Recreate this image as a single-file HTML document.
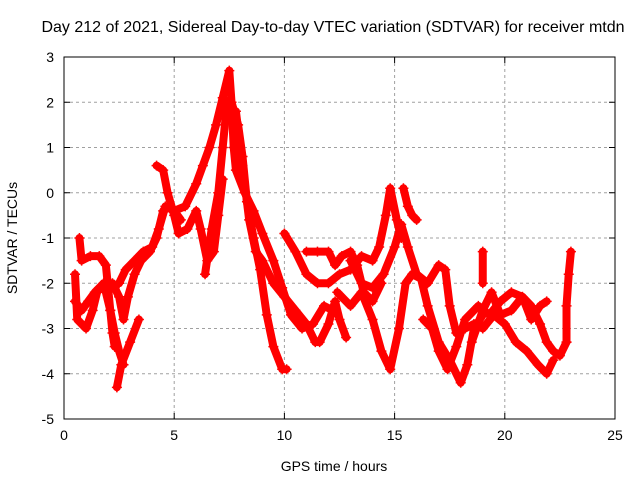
<!DOCTYPE html>
<html><head><meta charset="utf-8"><style>
body{margin:0;background:#fff}
svg{display:block;font-family:"Liberation Sans",sans-serif}
</style></head><body>
<svg id="chart" width="640" height="480">
<rect x="0" y="0" width="640" height="480" fill="#fff"/>
<text x="333" y="32" font-size="16" text-anchor="middle">Day 212 of 2021, Sidereal Day-to-day VTEC variation (SDTVAR) for receiver mtdn</text>
<g id="grid"></g>
<g id="series"></g>
<g id="axes"></g>
<text x="334" y="471" font-size="14" text-anchor="middle">GPS time / hours</text>
<text x="17" y="238" font-size="14" text-anchor="middle" transform="rotate(-90 17 238)">SDTVAR / TECUs</text>
</svg>
<script>
const xTicks=[0,5,10,15,20,25];
const yTicks=[3,2,1,0,-1,-2,-3,-4,-5];
const track1=[[5.0,-0.4],[5.5,-0.3],[6.0,0.2],[6.3,0.6],[6.6,1.0],[6.9,1.5],[7.2,2.1],[7.5,2.7],[7.6,2.0],[7.7,1.0],[7.8,0.5],[8.2,0.0],[8.6,-0.4],[9.0,-0.9],[9.5,-1.5],[9.9,-2.1],[10.3,-2.7],[10.8,-3.0],[11.3,-2.9],[11.8,-2.5],[12.2,-2.6]];
const track2=[[6.4,-1.8],[6.7,-0.8],[7.0,0.0],[7.2,1.0],[7.4,2.0],[7.6,2.0],[7.9,1.5],[8.1,0.8],[8.3,-0.2],[8.6,-1.0],[8.9,-1.7],[9.2,-2.7],[9.5,-3.4],[9.9,-3.9],[10.1,-3.9]];
const track3=[[7.8,1.8],[8.1,0.6],[8.4,-0.6],[8.7,-1.3],[9.0,-1.5],[9.5,-2.0],[10.0,-2.3],[10.5,-2.6],[11.0,-2.9],[11.4,-3.3],[11.6,-3.3],[12.0,-2.9],[12.3,-2.4],[12.5,-2.8],[12.8,-3.2]];
const track4=[[10.0,-0.9],[10.5,-1.3],[11.0,-1.8],[11.5,-2.0],[12.0,-2.0],[12.5,-1.8],[13.0,-1.7],[13.5,-1.4],[14.0,-1.5],[14.3,-1.2],[14.6,-0.5],[14.8,0.1],[15.1,-0.6],[15.3,-1.0]];
const track5=[[0.5,-1.8],[0.6,-2.8],[1.0,-3.0],[1.3,-2.6],[1.5,-2.2],[1.8,-2.0],[2.2,-2.0],[2.5,-2.3],[2.7,-2.8],[2.9,-2.3],[3.2,-1.8],[3.5,-1.5],[3.9,-1.3],[4.2,-1.0],[4.5,-0.4],[4.8,-0.3],[5.2,-0.6]];
const track6=[[0.7,-1.0],[0.8,-1.5],[1.2,-1.4],[1.6,-1.4],[1.9,-1.6],[2.0,-2.1],[2.1,-2.6],[2.2,-3.1],[2.3,-3.4]];
const track7=[[0.5,-2.4],[0.8,-2.6],[1.1,-2.4],[1.4,-2.2],[1.8,-2.0],[2.1,-2.6],[2.3,-3.1],[2.5,-3.5],[2.7,-3.8]];
const track8=[[2.4,-4.3],[2.6,-3.8],[3.0,-3.3],[3.4,-2.8]];
const track9=[[2.5,-2.0],[2.8,-1.7],[3.2,-1.5],[3.6,-1.3],[4.0,-1.2],[4.3,-0.8],[4.6,-0.3],[5.0,-0.4],[5.3,-0.6]];
const track10=[[4.2,0.6],[4.5,0.5],[4.7,0.0],[5.0,-0.5],[5.2,-0.9],[5.6,-0.8],[6.0,-0.4],[6.2,-0.8],[6.5,-1.5],[6.8,-1.3],[7.0,-0.5],[7.2,0.3]];
const track11=[[12.4,-2.2],[13.0,-2.5],[13.5,-2.2],[14.0,-2.8],[14.4,-3.5],[14.8,-3.9],[15.2,-3.0],[15.5,-2.0],[15.8,-1.8],[16.2,-1.9],[16.5,-2.5],[17.0,-3.3],[17.5,-3.7],[18.0,-4.2],[18.3,-3.8],[18.6,-3.0],[19.0,-2.7]];
const track12=[[15.4,0.1],[15.6,-0.3],[15.8,-0.5],[16.0,-0.6]];
const track13=[[13.0,-1.5],[13.5,-2.0],[14.0,-2.1],[14.5,-1.8],[15.0,-1.2],[15.3,-0.7],[15.6,-1.2],[16.0,-1.8],[16.5,-2.0],[17.0,-1.6],[17.3,-1.7],[17.5,-2.5],[17.8,-3.1],[18.2,-3.0],[18.6,-2.9],[19.0,-3.0],[19.5,-2.7],[20.0,-2.9],[20.5,-3.3],[21.0,-3.5],[21.5,-3.8],[21.9,-4.0],[22.2,-3.7]];
const track14=[[16.3,-2.8],[16.7,-3.0],[17.0,-3.5],[17.4,-3.9],[17.8,-3.4],[18.2,-2.8],[18.8,-2.5],[19.3,-2.7],[19.8,-2.4],[20.3,-2.2],[20.8,-2.3],[21.2,-2.5],[21.6,-2.9],[21.9,-3.3],[22.2,-3.5],[22.5,-3.6],[22.8,-3.3]];
const track15=[[18.5,-3.3],[19.0,-2.6],[19.4,-2.2],[19.8,-2.7],[20.3,-2.6],[20.8,-2.3],[21.2,-2.8],[21.6,-2.5],[21.9,-2.4]];
const track16=[[19.0,-1.3],[19.0,-2.0]];
const track17=[[22.8,-3.3],[22.8,-2.5],[22.9,-1.8],[23.0,-1.3]];
const track18=[[11.0,-1.3],[11.5,-1.3],[12.0,-1.3],[12.3,-1.6],[12.6,-1.4],[13.0,-1.3],[13.3,-1.6],[13.6,-2.2],[14.0,-2.4],[14.4,-2.0]];
const tracks=[track1,track2,track3,track4,track5,track6,track7,track8,track9,track10,track11,track12,track13,track14,track15,track16,track17,track18];

const X0=64,X1=615,Y0=57,Y1=419;
const xs=v=>X0+(v-0)/(25-0)*(X1-X0);
const ys=v=>Y0+(3-v)/(3-(-5))*(Y1-Y0);
const NS='http://www.w3.org/2000/svg';
function mk(t,a,p){const e=document.createElementNS(NS,t);for(const k in a)e.setAttribute(k,a[k]);p.appendChild(e);return e;}
const grid=document.getElementById('grid'),axes=document.getElementById('axes'),ser=document.getElementById('series');
xTicks.forEach(t=>{
  const x=xs(t);
  if(t>0&&t<25){const g=mk('line',{x1:x,y1:Y0,x2:x,y2:Y1,stroke:'#a0a0a0','stroke-dasharray':'3,3'},grid);
  
  }
  mk('line',{x1:x,y1:Y1,x2:x,y2:Y1-6,stroke:'#000'},axes);
  mk('line',{x1:x,y1:Y0,x2:x,y2:Y0+6,stroke:'#000'},axes);
  const l=mk('text',{x:x,y:Y1+21,'font-size':14,'text-anchor':'middle'},axes);l.textContent=t;
  
  
});
yTicks.forEach(t=>{
  const y=ys(t);
  if(t<3&&t>-5){const g=mk('line',{x1:X0,y1:y,x2:X1,y2:y,stroke:'#a0a0a0','stroke-dasharray':'3,3'},grid);
  
  }
  mk('line',{x1:X0,y1:y,x2:X0+6,y2:y,stroke:'#000'},axes);
  mk('line',{x1:X1,y1:y,x2:X1-6,y2:y,stroke:'#000'},axes);
  const l=mk('text',{x:X0-10,y:y+5,'font-size':14,'text-anchor':'end'},axes);l.textContent=t;
  
  
});
mk('rect',{x:X0,y:Y0,width:X1-X0,height:Y1-Y0,fill:'none',stroke:'#000'},axes);
tracks.forEach((tr,i)=>{
  const pl=mk('polyline',{points:tr.map(p=>xs(p[0])+','+ys(p[1])).join(' '),fill:'none',stroke:'#f00','stroke-width':8,'stroke-linejoin':'round','stroke-linecap':'round'},ser);
  
  
  tr.forEach(p=>{
    const x=xs(p[0]),y=ys(p[1]);
    const m=mk('path',{d:`M${x-5},${y}H${x+5}M${x},${y-5}V${y+5}`,stroke:'#f00','stroke-width':1.5},ser);
    
    
  });
});
</script>
</body></html>
